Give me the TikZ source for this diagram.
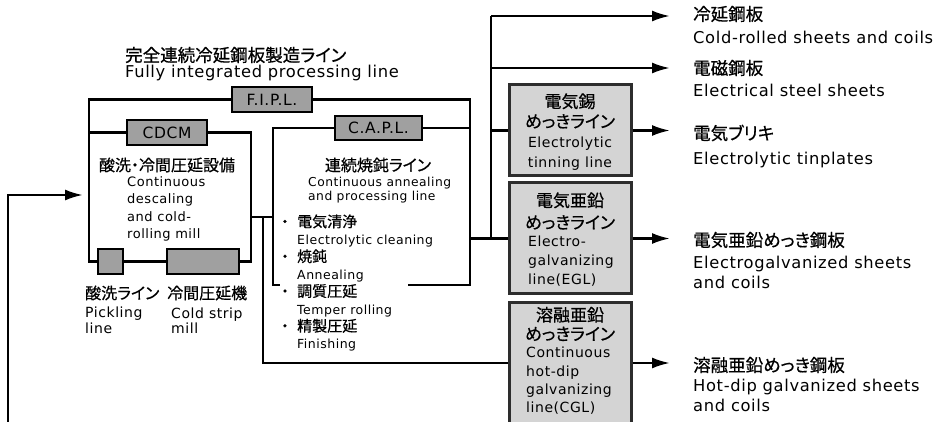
\documentclass[tikz,border=0pt]{standalone}
\usepackage{fontspec}
\setmainfont[LetterSpace=4]{DejaVu Sans}
\newfontfamily\jpfont[RawFeature=+palt,FakeBold=0.6]{Noto Sans CJK JP}
\usetikzlibrary{arrows.meta}
\definecolor{tagfill}{RGB}{160,160,160}
\definecolor{linefill}{RGB}{212,212,212}
\definecolor{lineedge}{RGB}{45,45,45}
\tikzset{
	flow/.style={line width=2.4pt},
	arr/.style={flow,-{Latex[length=18pt,width=11pt]}},
	tag/.style={draw,line width=2.6pt,fill=tagfill,inner sep=0pt,font=\fontsize{15.5}{18}\selectfont},
	linebox/.style={draw=lineedge,line width=3pt,fill=linefill,minimum width=122pt,inner sep=0pt},
	jbig/.style={inner sep=0pt,anchor=west,font=\jpfont\fontsize{17.5}{21}\selectfont},
	ebig/.style={inner sep=0pt,anchor=west,align=left,font=\fontsize{16.3}{20}\selectfont},
	jmid/.style={inner sep=0pt,align=center,font=\jpfont\fontsize{16}{20}\selectfont},
	emid/.style={inner sep=0pt,anchor=west,align=left,font=\fontsize{14}{15.5}\selectfont}
}
\begin{document}
\begin{tikzpicture}[x=1pt,y=-1pt]
		\useasboundingbox (0,0) rectangle (946,422);
		% grey tags of the lines
		\node[tag, minimum width=80pt, minimum height=25pt] (fipl) at (272,99.5){F.I.P.L.};
		\node[tag, minimum width=80pt, minimum height=25pt] (cdcm) at (167,132.5){CDCM};
		\node[tag, minimum width=87pt, minimum height=24pt] (capl) at (378.5,128){C.A.P.L.};
		\node[tag, minimum width=25pt, minimum height=25pt] (pick) at (110.5,261.5){};
		\node[tag, minimum width=72pt, minimum height=25pt] (csm) at (203,261.5){};
		% plating lines
		\node[linebox, minimum height=91pt] (tin) at (570,130.5){};
		\node[linebox, minimum height=111pt] (egl) at (570,238.5){};
		\node[linebox, minimum height=121pt] (cgl) at (570,363){};
		% corners and junctions
		\coordinate (fbl) at (89,261.5);
		\coordinate (cbr) at (251,261.5);
		\coordinate (fbr) at (470,285);
		\coordinate (cbot) at (408,285);
		\coordinate (cbl) at (273,285);
		\coordinate (cgap) at (280,285);
		\coordinate (cout) at (251,217);
		\coordinate (split) at (263,217);
		\coordinate (bustop) at (491,16);
		\coordinate (busmid) at (491,68);
		\coordinate (crtip) at (670,16);
		\coordinate (estip) at (670,68);
		\coordinate (tptip) at (670,130.5);
		\coordinate (egtip) at (670,238.5);
		\coordinate (hdtip) at (670,363);
		\coordinate (instart) at (8,425);
		\coordinate (intip) at (83,195);
		% frames
		\draw[flow] (fipl.west) -| (fbl) -- (pick.west);
		\draw[flow] (pick.east) -- (csm.west);
		\draw[flow] (csm.east) -- (cbr) |- (cdcm.east);
		\draw[flow] (cdcm.west) -- (cdcm.west -| fbl);
		\draw[flow] (fipl.east) -| (fbr) -- (cbot);
		\draw[flow] (capl.east) -- (capl.east -| fbr);
		\draw[flow] (capl.west) -| (cbl) -- (cgap);
		\draw[flow] (cout) -- (cout -| cbl);
		\draw[flow] (split) |- (cgl.west);
		\draw[flow] (fbr |- egl.west) -- (egl.west);
		\draw[flow] (bustop) -- (bustop |- egl.west);
		\draw[flow] (bustop |- tin.west) -- (tin.west);
		% arrows
		\draw[arr] (bustop) -- (crtip);
		\draw[arr] (busmid) -- (estip);
		\draw[arr] (tin.east) -- (tptip);
		\draw[arr] (egl.east) -- (egtip);
		\draw[arr] (cgl.east) -- (hdtip);
		\draw[arr] (instart) |- (intip);
		% texts
		\node[jbig] (title) at (125,55){完全連続冷延鋼板製造ライン};
		\node[ebig] (titleen) at (125,73){Fully integrated processing line};
		\node[jmid] (cdcmjp) at (167,165){酸洗・冷間圧延設備};
		\node[emid, font=\fontsize{13}{17.3}\selectfont] (cdcmen) at (127,209){Continuous\\descaling\\and cold-\\rolling mill};
		\node[jmid, anchor=west] (pickjp) at (85,293){酸洗ライン};
		\node[emid] (picken) at (85,320.5){Pickling\\line};
		\node[jmid, anchor=west] (csmjp) at (167,293){冷間圧延機};
		\node[emid] (csmen) at (171,320.5){Cold strip\\mill};
		\node[jmid] (capljp) at (378,165){連続焼鈍ライン};
		\node[emid, font=\fontsize{12.3}{14.5}\selectfont] (caplen) at (308,190){Continuous annealing\\and processing line};
		\node[emid, font=\fontsize{12.5}{17.4}\selectfont] (capllist) at (281,283){%
			{\jpfont\fontsize{15}{17.4}\selectfont\makebox[16pt][l]{・}電気清浄}\\\hspace*{16pt}Electrolytic cleaning\\
			{\jpfont\fontsize{15}{17.4}\selectfont\makebox[16pt][l]{・}焼鈍}\\\hspace*{16pt}Annealing\\
			{\jpfont\fontsize{15}{17.4}\selectfont\makebox[16pt][l]{・}調質圧延}\\\hspace*{16pt}Temper rolling\\
			{\jpfont\fontsize{15}{17.4}\selectfont\makebox[16pt][l]{・}精製圧延}\\\hspace*{16pt}Finishing};
		\node[jmid, font=\fontsize{14}{20}\selectfont] (tintxt) at (570,132){{\jpfont\fontsize{17}{20}\selectfont 電気錫}\\{\jpfont\fontsize{17}{20}\selectfont めっきライン}\\Electrolytic\\tinning line};
		\node[jmid, font=\jpfont\fontsize{17}{22}\selectfont] (egljp) at (570,211){電気亜鉛\\めっきライン};
		\node[emid, font=\fontsize{14}{19}\selectfont] (eglen) at (528,261){Electro-\\galvanizing\\line(EGL)};
		\node[jmid, font=\jpfont\fontsize{17}{19}\selectfont] (cgljp) at (570,324){溶融亜鉛\\めっきライン};
		\node[emid, font=\fontsize{14}{18.3}\selectfont] (cglen) at (526,381){Continuous\\hot-dip\\galvanizing\\line(CGL)};
		% products
		\node[jbig] (crjp) at (693,14){冷延鋼板};
		\node[ebig] (cren) at (693,37){Cold-rolled sheets and coils};
		\node[jbig] (esjp) at (693,68){電磁鋼板};
		\node[ebig] (esen) at (693,90){Electrical steel sheets};
		\node[jbig] (tpjp) at (693,133){電気ブリキ};
		\node[ebig] (tpen) at (693,160){Electrolytic tinplates};
		\node[jbig] (egjp) at (693,240){電気亜鉛めっき鋼板};
		\node[ebig] (egen) at (693,272){Electrogalvanized sheets\\and coils};
		\node[jbig] (hdjp) at (693,365){溶融亜鉛めっき鋼板};
		\node[ebig] (hden) at (693,395.5){Hot-dip galvanized sheets\\and coils};
\end{tikzpicture}
\end{document}
